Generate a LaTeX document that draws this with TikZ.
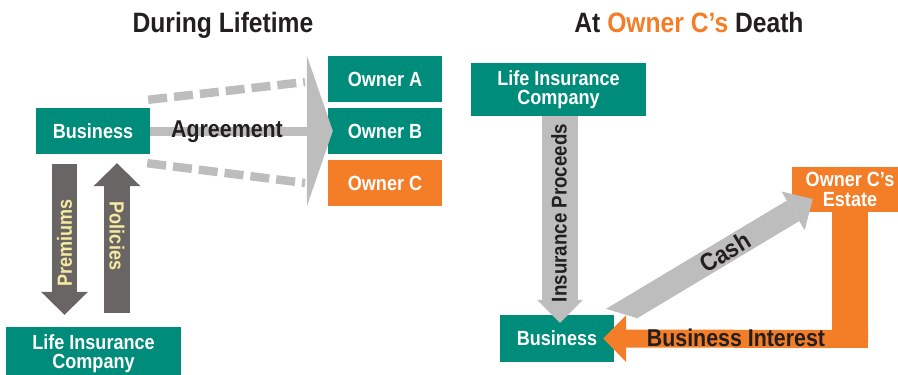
\documentclass[tikz,border=0pt]{standalone}
\usepackage{fontspec}
\newfontfamily\lbl{Liberation Sans}[FakeStretch=0.88]
\usetikzlibrary{arrows.meta,calc}
\definecolor{bteal}{RGB}{0,140,122}
\definecolor{borange}{RGB}{244,126,40}
\definecolor{lgrey}{RGB}{190,189,190}
\definecolor{dgrey}{RGB}{106,101,101}
\definecolor{cream}{RGB}{246,234,160}
\definecolor{ink}{RGB}{35,31,32}
\tikzset{
  lab/.style={font=\lbl\bfseries\fontsize{20.5}{19.5}\selectfont},
  bigtxt/.style={font=\lbl\bfseries\fontsize{24.3}{24.3}\selectfont, text=ink},
  title/.style={font=\lbl\bfseries\fontsize{28}{28}\selectfont, text=ink},
  box/.style={lab, text=white, fill=bteal, minimum width=114pt, minimum height=46pt, inner sep=0pt, align=center},
  darkarrow/.style={draw=dgrey, line width=25.5pt, -{Triangle[width=47pt,length=23pt,line width=0pt]}},
  proceeds/.style={draw=lgrey, line width=36pt, -{Triangle[width=46pt,length=23pt,line width=0pt]}},
  casharrow/.style={draw=lgrey, line width=24pt, -{Triangle[width=45pt,length=23pt,line width=0pt]}},
  orangearrow/.style={draw=borange, line width=18pt, -{Triangle[width=47pt,length=23pt,line width=0pt]}},
  agree/.style={draw=lgrey, line width=9pt, -{Triangle[width=151pt,length=26pt,line width=0pt]}},
  dashline/.style={draw=lgrey, line width=8.5pt, dash pattern=on 19pt off 7pt},
  cremtxt/.style={lab, text=cream},
  inktxt/.style={lab, text=ink}
}
\begin{document}
\begin{tikzpicture}[x=1pt,y=-1pt]
\useasboundingbox (0,0) rectangle (898,375);
% titles
\node[title, anchor=base] (T1) at (223,32) {During Lifetime};
\node[title, anchor=base] (T2) at (689,32) {At \textcolor{borange}{Owner C’s} Death};
% left panel boxes
\node[box] (BusL) at (93,131) {Business};
\node[box] (OwnA) at (385,79) {Owner A};
\node[box] (OwnB) at (385,131) {Owner B};
\node[box, fill=borange] (OwnC) at (385,183) {Owner C};
\node[box, minimum width=175pt, minimum height=53pt] (LifeL) at (93.5,353.5) {Life Insurance\\Company};
% right panel boxes
\node[box, minimum width=175pt, minimum height=53pt] (LifeR) at (558.5,89.5) {Life Insurance\\Company};
\node[box, minimum height=47pt] (BusR) at (557,338.5) {Business};
\node[box, fill=borange, minimum width=116pt, minimum height=45pt] (Estate) at (850,189.5) {Owner C’s\\Estate};
% left panel connectors
\coordinate (dA1) at ($(BusL.north east)+(-2,-8)$);
\coordinate (dA2) at (305,82);
\coordinate (dC1) at ($(BusL.south east)+(-3,9)$);
\coordinate (dC2) at (305,183);
\draw[dashline] (dA1) -- (dA2);
\draw[dashline] (dC1) -- (dC2);
\draw[agree] (BusL.east) -- ($(OwnB.west)+(5,0)$);
\node[bigtxt, anchor=base] (agtxt) at (227,137.3) {Agreement};
\draw[darkarrow] ($(BusL.south)+(-28.5,10)$) -- ($(LifeL.north)+(-29,-12)$);
\draw[darkarrow] ($(LifeL.north)+(23.5,-14)$) -- ($(BusL.south)+(24,9)$);
\node[cremtxt, rotate=90] (prem) at (64.5,243) {Premiums};
\node[cremtxt, rotate=-90] (pol) at (117,236) {Policies};
% right panel connectors
\draw[proceeds] ($(LifeR.south)+(1.5,0)$) -- ($(BusR.north)+(3,8)$);
\node[inktxt, font=\lbl\bfseries\fontsize{21.3}{21.3}\selectfont, rotate=90] (proc) at (559,213) {Insurance Proceeds};
\begin{scope}
  \clip (560,295) -- (900,397) -- (900,0) -- (560,0) -- cycle;
  \draw[casharrow] ($(BusR.north east)+(-8,8)$) -- ($(Estate.west)+(21,9.5)$);
\end{scope}
\node[bigtxt, font=\lbl\bfseries\fontsize{25}{25}\selectfont, rotate=31] (cash) at (725,252) {Cash};
\draw[borange, line width=36pt] (Estate.south) -- ++(0,136);
\draw[orangearrow] (868,339) -- ($(BusR.east)+(-11,0)$);
\node[bigtxt] (bint) at (736,338) {Business Interest};
\end{tikzpicture}
\end{document}
